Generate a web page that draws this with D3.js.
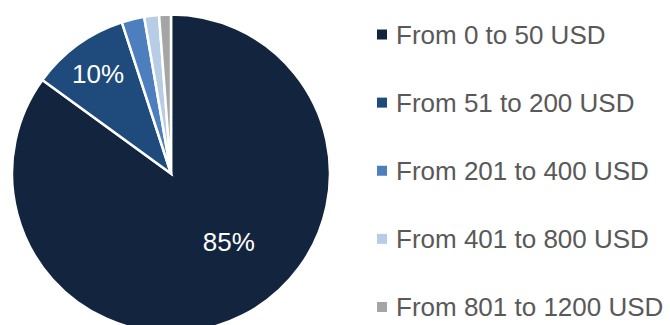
<!DOCTYPE html>
<html>
<head>
<meta charset="utf-8">
<script src="https://cdn.jsdelivr.net/npm/d3@7"></script>
<style>
  html, body { margin: 0; padding: 0; background: #fff; }
  svg { display: block; }
</style>
</head>
<body>
<svg id="chart" width="670" height="325"></svg>
<script>
// Share of orders by order value
const categories = [
  "From 0 to 50 USD",
  "From 51 to 200 USD",
  "From 201 to 400 USD",
  "From 401 to 800 USD",
  "From 801 to 1200 USD"
];
const shares = [85, 10, 2.3, 1.5, 1.2];
const shownLabels = ["85%", "10%", null, null, null];
const colors = ["#13243f", "#1f4a7c", "#4d7fbf", "#b7cde6", "#a5a5a5"];

const width = 670, height = 325;
const cx = 171, cy = 173.5, radius = 159;

const svg = d3.select("#chart");
const data = categories.map((c, i) => ({ category: c, value: shares[i], label: shownLabels[i], color: colors[i] }));

const pie = d3.pie().value(d => d.value).sort(null);
const arcs = pie(data);
const arc = d3.arc().innerRadius(0).outerRadius(radius);

const g = svg.append("g").attr("transform", `translate(${cx},${cy})`);

g.selectAll("path.slice")
  .data(arcs)
  .join("path")
  .attr("class", "slice")
  .attr("d", arc)
  .attr("fill", d => d.data.color)
  .attr("stroke", "#fff")
  .attr("stroke-width", 2.5)
  .attr("stroke-linejoin", "miter");

// Label placement: small slices sit on their mid angle near the rim,
// the dominant slice is pulled toward the middle of its open area.
function labelPoint(d) {
  const span = d.endAngle - d.startAngle;
  const big = span > Math.PI;
  const a = d.startAngle + span * (big ? 0.456 : 0.5);
  const r = radius * (big ? 0.56 : 0.78);
  return [Math.sin(a) * r, -Math.cos(a) * r];
}

g.selectAll("text.value")
  .data(arcs.filter(d => d.data.label))
  .join("text")
  .attr("class", "value")
  .attr("x", d => labelPoint(d)[0])
  .attr("y", d => labelPoint(d)[1])
  .attr("dy", "0.36em")
  .attr("text-anchor", "middle")
  .attr("fill", "#ffffff")
  .attr("font-family", "'Liberation Sans', Arial, Helvetica, sans-serif")
  .attr("font-size", 26)
  .text(d => d.data.label);

// Legend
const legendY = d3.scalePoint().domain(categories).range([34.5, 307]);
const legend = svg.append("g").attr("class", "legend");
const rows = legend.selectAll("g.row")
  .data(data)
  .join("g")
  .attr("class", "row")
  .attr("transform", d => `translate(377,${legendY(d.category)})`);

rows.append("rect")
  .attr("x", 0)
  .attr("y", -5)
  .attr("width", 10)
  .attr("height", 10)
  .attr("fill", d => d.color);

rows.append("text")
  .attr("x", 19)
  .attr("y", 0)
  .attr("dy", "0.36em")
  .attr("fill", "#595959")
  .attr("font-family", "'Liberation Sans', Arial, Helvetica, sans-serif")
  .attr("font-size", 26)
  .text(d => d.category);
</script>
</body>
</html>
